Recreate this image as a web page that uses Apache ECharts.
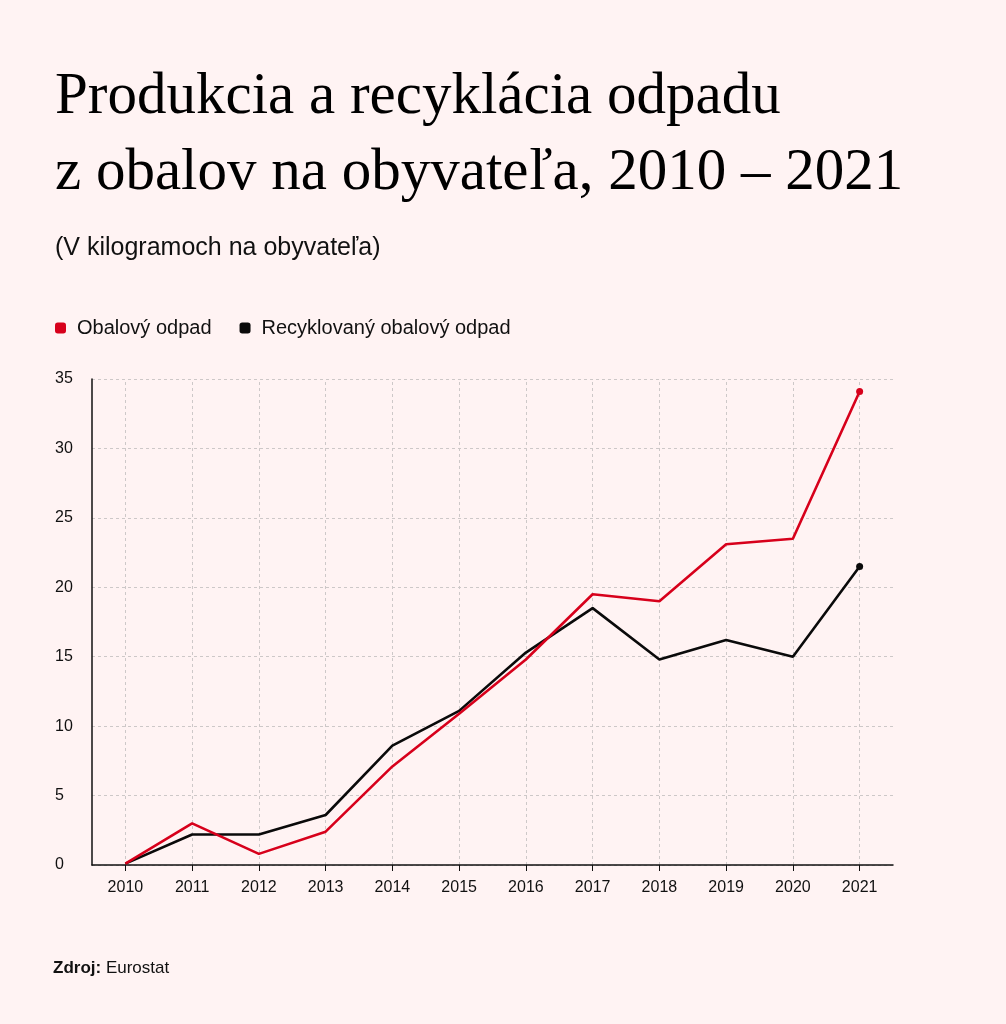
<!DOCTYPE html>
<html>
<head>
<meta charset="utf-8">
<script src="https://cdn.jsdelivr.net/npm/echarts@6/dist/echarts.min.js"></script>
<style>
  html, body { margin: 0; padding: 0; background: #fff3f3; }
  #chart { width: 1006px; height: 1024px; }
</style>
</head>
<body>
<div id="chart"></div>
<script>
// roky
const years = ['2010', '2011', '2012', '2013', '2014', '2015', '2016', '2017', '2018', '2019', '2020', '2021'];
// kg na obyvateľa, odčítané z grafu
const packagingWaste = [0.1, 3.0, 0.8, 2.4, 7.1, 10.9, 14.8, 19.5, 19.0, 23.1, 23.5, 34.1];
const recycledWaste = [0.1, 2.2, 2.2, 3.6, 8.6, 11.1, 15.3, 18.5, 14.8, 16.2, 15.0, 21.5];
const yTicks = [0, 5, 10, 15, 20, 25, 30, 35];

const RED = '#d7001b';
const BLACK = '#0a0a0a';
const GRID = '#cdc8c8';
const sans = '"Liberation Sans", Arial, Helvetica, sans-serif';

// bodka len na poslednom roku
const lastOnly = (arr) => arr.map((v, i) => i === arr.length - 1
  ? { value: v, symbol: 'circle', symbolSize: 7 }
  : { value: v, symbol: 'none' });

const chart = echarts.init(document.getElementById('chart'));
chart.setOption({
  backgroundColor: '#fff3f3',
  animation: false,
  title: [
    {
      text: 'Produkcia a recyklácia odpadu\nz obalov na obyvateľa, 2010 – 2021',
      left: 50,
      top: 54,
      textStyle: {
        fontFamily: '"Liberation Serif", "Times New Roman", serif',
        fontWeight: 'normal',
        fontSize: 59,
        lineHeight: 76,
        color: '#000'
      }
    },
    {
      text: '(V kilogramoch na obyvateľa)',
      left: 50,
      top: 231,
      textStyle: { fontFamily: sans, fontWeight: 'normal', fontSize: 25, color: '#111' }
    },
    {
      text: '{b|Zdroj:} Eurostat',
      left: 48,
      top: 955,
      textStyle: {
        fontFamily: sans, fontWeight: 'normal', fontSize: 17, color: '#111',
        rich: { b: { fontFamily: sans, fontWeight: 'bold', fontSize: 17, color: '#111' } }
      }
    }
  ],
  legend: {
    left: 50,
    top: 313,
    icon: 'roundRect',
    itemWidth: 11,
    itemHeight: 11,
    itemGap: 28,
    textStyle: { fontFamily: sans, fontSize: 20, color: '#111', padding: [0, 0, 0, 6] },
    data: ['Obalový odpad', 'Recyklovaný obalový odpad']
  },
  grid: { left: 92, right: 113, top: 379, bottom: 159, containLabel: false },
  xAxis: {
    type: 'category',
    data: years,
    boundaryGap: true,
    axisLine: { lineStyle: { color: '#111', width: 1.5 } },
    axisTick: { show: true, alignWithLabel: true, length: 6, lineStyle: { color: '#111' } },
    axisLabel: { fontFamily: sans, fontSize: 16, color: '#111', margin: 15 },
    splitLine: { show: false }
  },
  yAxis: {
    type: 'value',
    min: 0,
    max: 35,
    interval: 5,
    axisLine: { show: true, lineStyle: { color: '#111', width: 1.5 } },
    axisTick: { show: false },
    axisLabel: {
      fontFamily: sans, fontSize: 16, color: '#111', align: 'left', margin: 37,
      formatter: (v) => (yTicks.includes(v) ? String(v) : '')
    },
    splitLine: { show: true, lineStyle: { color: GRID, type: [3, 3], width: 1 } }
  },
  series: [
    {
      // zvislá mriežka v strede každého roka
      name: 'mriezka',
      type: 'line',
      data: [],
      silent: true,
      z: 0,
      markLine: {
        silent: true,
        z: 0,
        symbol: 'none',
        label: { show: false },
        lineStyle: { color: GRID, type: [3, 3], width: 1 },
        data: years.map((y) => ({ xAxis: y }))
      }
    },
    {
      name: 'Obalový odpad',
      type: 'line',
      data: lastOnly(packagingWaste),
      color: RED,
      lineStyle: { color: RED, width: 2.6 },
      itemStyle: { color: RED },
      showSymbol: true,
      z: 10
    },
    {
      name: 'Recyklovaný obalový odpad',
      type: 'line',
      data: lastOnly(recycledWaste),
      color: BLACK,
      lineStyle: { color: BLACK, width: 2.6 },
      itemStyle: { color: BLACK },
      showSymbol: true,
      z: 9
    }
  ]
});
</script>
</body>
</html>
